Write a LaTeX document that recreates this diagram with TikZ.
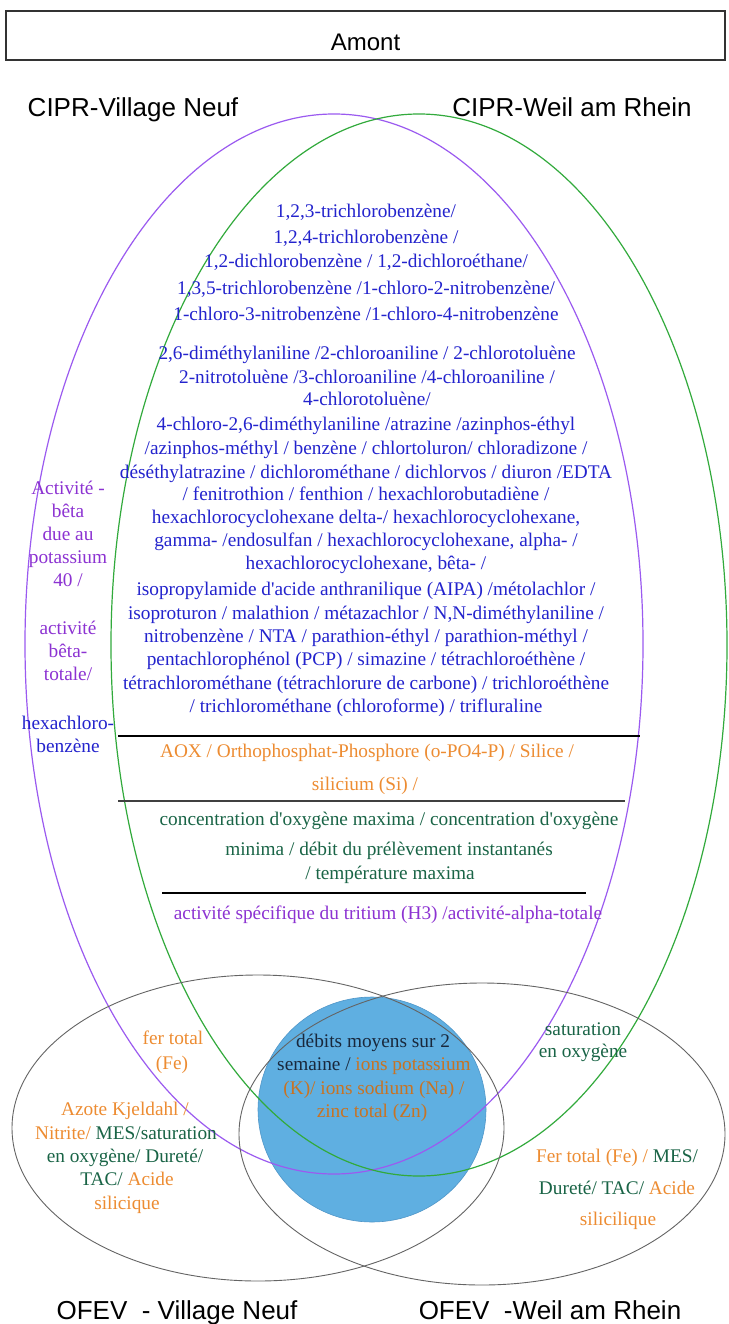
\documentclass[tikz,border=0pt]{standalone}
\usepackage{fontspec}
\setmainfont{Liberation Serif}
\newfontfamily\arialf{Liberation Sans}
\definecolor{cblue}{RGB}{35,35,205}
\definecolor{corange}{RGB}{237,140,50}
\definecolor{dorange}{RGB}{200,115,35}
\definecolor{cgreen}{RGB}{25,100,70}
\definecolor{cpurple}{RGB}{140,50,210}
\definecolor{lpurple}{RGB}{155,90,240}
\definecolor{lgreen}{RGB}{50,170,60}
\definecolor{lgrey}{RGB}{100,100,100}
\definecolor{bfill}{RGB}{95,175,225}
\definecolor{bdraw}{RGB}{80,150,200}
\definecolor{cdark}{RGB}{25,40,60}
\newcommand{\ap}{\textquotesingle}
\begin{document}
\begin{tikzpicture}[x=1pt,y=-1pt,
  lbl/.style={font=\arialf\fontsize{26}{30}\selectfont, inner sep=0, anchor=base},
  tx/.style={font=\fontsize{19.3}{23}\selectfont, inner sep=0, anchor=mid},
  tb/.style={tx, text=cblue},
  to/.style={tx, text=corange},
  tg/.style={tx, text=cgreen},
  tp/.style={tx, text=cpurple},
  td/.style={tx, text=cdark}]
\useasboundingbox (0,0) rectangle (728,1324);
\fill[white] (0,0) rectangle (728,1324);
% title box
\node[draw=black!80, line width=1.3pt, minimum width=719pt, minimum height=49pt, inner sep=0] (amont) at (365.5,35.5) {};
\node[font=\arialf\fontsize{24}{28}\selectfont, inner sep=0, anchor=base] (amontt) at (amont.center) [yshift=-15pt] {Amont};
\node[lbl] (cv) at (133,117) {CIPR-Village Neuf};
\node[lbl] (cw) at (572,117) {CIPR-Weil am Rhein};
\node[lbl] (ov) at (177,1319) {OFEV\ \ - Village Neuf};
\node[lbl] (ow) at (550,1319) {OFEV\ \ -Weil am Rhein};
% blue disc
\fill[bfill] (372,1109.5) ellipse [x radius=114pt, y radius=112.5pt];
\draw[bdraw, line width=0.6pt] (372,1109.5) ellipse [x radius=114pt, y radius=112.5pt];
% ellipses
\draw[lpurple, line width=1.2pt] (334,644) ellipse [x radius=309pt, y radius=530pt];
\draw[lgreen, line width=1.2pt] (419,645) ellipse [x radius=308pt, y radius=531pt];
\draw[lgrey, line width=0.9pt] (258,1128) ellipse [x radius=246pt, y radius=153pt];
\draw[lgrey, line width=0.9pt] (482,1134) ellipse [x radius=243pt, y radius=151pt];
% separators
\draw[black, line width=1.2pt] (118,736) -- (640,736);
\draw[black!75, line width=1.2pt] (118,801) -- (625,801);
\draw[black, line width=1.2pt] (162,893) -- (586,893);
% blue list
\node[tb] (b1) at (366,215) {1,2,3-trichlorobenzène/};
\node[tb] (b2) at (366,241) {1,2,4-trichlorobenzène /};
\node[tb] (b3) at (366,265) {1,2-dichlorobenzène / 1,2-dichloroéthane/};
\node[tb] (b4) at (366,292) {1,3,5-trichlorobenzène /1-chloro-2-nitrobenzène/};
\node[tb] (b5) at (366,318) {1-chloro-3-nitrobenzène /1-chloro-4-nitrobenzène};
\node[tb] (b6) at (367,357) {2,6-diméthylaniline /2-chloroaniline / 2-chlorotoluène};
\node[tb] (b7) at (367,381) {2-nitrotoluène /3-chloroaniline /4-chloroaniline /};
\node[tb] (b8) at (367,403) {4-chlorotoluène/};
\node[tb] (b9) at (366,428) {4-chloro-2,6-diméthylaniline /atrazine /azinphos-éthyl};
\node[tb] (b10) at (366,452) {/azinphos-méthyl / benzène / chlortoluron/ chloradizone /};
\node[tb] (b11) at (366,476) {déséthylatrazine / dichlorométhane / dichlorvos / diuron /EDTA};
\node[tb] (b12) at (366,498) {/ fenitrothion / fenthion / hexachlorobutadiène /};
\node[tb] (b13) at (366,521) {hexachlorocyclohexane delta-/ hexachlorocyclohexane,};
\node[tb] (b14) at (366,544) {gamma- /endosulfan / hexachlorocyclohexane, alpha- /};
\node[tb] (b15) at (366,567) {hexachlorocyclohexane, bêta- /};
\node[tb] (b16) at (366,593) {isopropylamide d\ap acide anthranilique (AIPA) /métolachlor /};
\node[tb] (b17) at (366,617) {isoproturon / malathion / métazachlor / N,N-diméthylaniline /};
\node[tb] (b18) at (366,640) {nitrobenzène / NTA / parathion-éthyl / parathion-méthyl /};
\node[tb] (b19) at (366,663) {pentachlorophénol (PCP) / simazine / tétrachloroéthène /};
\node[tb] (b20) at (366,687) {tétrachlorométhane (tétrachlorure de carbone) / trichloroéthène};
\node[tb] (b21) at (366,710) {/ trichlorométhane (chloroforme) / trifluraline};
% orange
\node[to] (o1) at (367,755) {AOX / Orthophosphat-Phosphore (o-PO4-P) / Silice /};
\node[to] (o2) at (365,788) {silicium (Si) /};
% green
\node[tg] (g1) at (389,823) {concentration d\ap oxygène maxima / concentration d\ap oxygène};
\node[tg] (g2) at (389,853) {minima / débit du prélèvement instantanés};
\node[tg] (g3) at (390,877) {/ température maxima};
% purple
\node[tp] (p1) at (388,917) {activité spécifique du tritium (H3) /activité-alpha-totale};
% left column
\node[tp] (a1) at (68,492) {Activité -};
\node[tp] (a2) at (68,515) {bêta};
\node[tp] (a3) at (68,538) {due au};
\node[tp] (a4) at (68,561) {potassium};
\node[tp] (a5) at (68,584) {40 /};
\node[tp] (a6) at (68,632) {activité};
\node[tp] (a7) at (68,655) {bêta-};
\node[tp] (a8) at (68,678) {totale/};
\node[tb] (h1) at (68,727) {hexachloro-};
\node[tb] (h2) at (68,750) {benzène};
% bottom left
\node[to] (f1) at (173,1042) {fer total};
\node[to] (f2) at (172,1067) {(Fe)};
\node[to] (k1) at (125,1113) {Azote Kjeldahl /};
\node[tx] (k2) at (126,1137) {\textcolor{corange}{Nitrite/} \textcolor{cgreen}{MES/saturation}};
\node[tg] (k3) at (125,1160) {en oxygène/ Dureté/};
\node[tx] (k4) at (127,1183) {\textcolor{cgreen}{TAC/} \textcolor{corange}{Acide}};
\node[to] (k5) at (127,1207) {silicique};
% bottom right
\node[tg] (s1) at (583,1033) {saturation};
\node[tg] (s2) at (583,1055) {en oxygène};
\node[tx] (r1) at (617,1160) {\textcolor{corange}{Fer total (Fe) /} \textcolor{cgreen}{MES/}};
\node[tx] (r2) at (617,1192) {\textcolor{cgreen}{Dureté/ TAC/} \textcolor{corange}{Acide}};
\node[to] (r3) at (618,1223) {silicilique};
% center disc text
\node[td] (c1) at (373,1045) {débits moyens sur 2};
\node[tx] (c2) at (374,1068) {\textcolor{cdark}{semaine /} \textcolor{dorange}{ions potassium}};
\node[tx, text=dorange] (c3) at (374,1092) {(K)/ ions sodium (Na) /};
\node[tx, text=dorange] (c4) at (372,1115) {zinc total (Zn)};
\end{tikzpicture}
\end{document}
